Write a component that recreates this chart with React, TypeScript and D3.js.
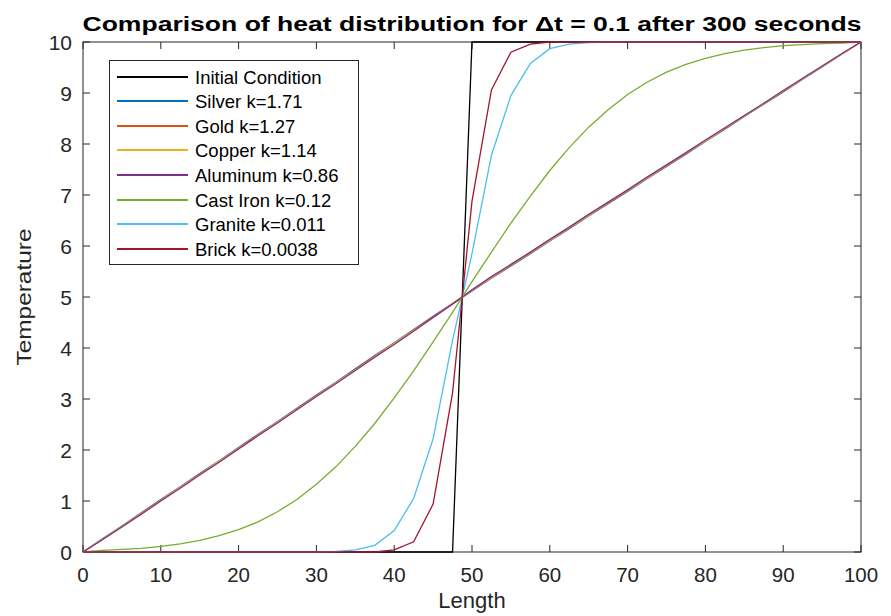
import React from "react";
import * as d3 from "d3";

// sample positions along the rod (every 2.5 units)
const xs = [
  0, 2.5, 5, 7.5, 10, 12.5, 15, 17.5, 20, 22.5, 25, 27.5, 30, 32.5, 35, 37.5, 40, 42.5, 45, 47.5,
  50, 52.5, 55, 57.5, 60, 62.5, 65, 67.5, 70, 72.5, 75, 77.5, 80, 82.5, 85, 87.5, 90, 92.5, 95, 97.5, 100,
];

const initialCond = [
  0, 0, 0, 0, 0, 0, 0, 0, 0, 0, 0, 0, 0, 0, 0, 0, 0, 0, 0, 0,
  10, 10, 10, 10, 10, 10, 10, 10, 10, 10, 10, 10, 10, 10, 10, 10, 10, 10, 10, 10, 10,
];
const silver = [
  0, 0.26, 0.51, 0.77, 1.03, 1.28, 1.54, 1.79, 2.05, 2.31, 2.56, 2.82, 3.08, 3.33, 3.59, 3.85, 4.1, 4.36, 4.62, 4.87,
  5.12, 5.37, 5.61, 5.85, 6.1, 6.34, 6.59, 6.83, 7.07, 7.32, 7.56, 7.8, 8.05, 8.29, 8.54, 8.78, 9.02, 9.27, 9.51, 9.76, 10,
];
const gold = [
  0, 0.25, 0.5, 0.76, 1.02, 1.27, 1.53, 1.78, 2.04, 2.3, 2.55, 2.81, 3.07, 3.32, 3.58, 3.84, 4.09, 4.35, 4.61, 4.87,
  5.13, 5.38, 5.62, 5.86, 6.11, 6.35, 6.6, 6.84, 7.08, 7.33, 7.57, 7.81, 8.06, 8.3, 8.55, 8.79, 9.03, 9.28, 9.52, 9.76, 10,
];
const copper = [
  0, 0.25, 0.5, 0.75, 1.01, 1.27, 1.52, 1.78, 2.03, 2.29, 2.55, 2.8, 3.06, 3.32, 3.57, 3.83, 4.09, 4.34, 4.6, 4.87,
  5.13, 5.38, 5.63, 5.87, 6.11, 6.36, 6.6, 6.85, 7.09, 7.33, 7.58, 7.82, 8.06, 8.31, 8.55, 8.79, 9.04, 9.28, 9.52, 9.76, 10,
];
const aluminum = [
  0, 0.24, 0.49, 0.74, 1.0, 1.25, 1.51, 1.76, 2.02, 2.28, 2.53, 2.79, 3.05, 3.3, 3.56, 3.82, 4.07, 4.33, 4.6, 4.86,
  5.14, 5.4, 5.64, 5.88, 6.13, 6.37, 6.62, 6.86, 7.1, 7.35, 7.59, 7.83, 8.08, 8.32, 8.56, 8.8, 9.05, 9.29, 9.53, 9.77, 10,
];
const castIron = [
  0, 0.03, 0.05, 0.07, 0.11, 0.16, 0.23, 0.32, 0.44, 0.59, 0.79, 1.03, 1.33, 1.67, 2.07, 2.52, 3.02, 3.55, 4.12, 4.7,
  5.3, 5.88, 6.45, 6.98, 7.48, 7.93, 8.33, 8.67, 8.97, 9.21, 9.41, 9.56, 9.68, 9.77, 9.84, 9.89, 9.93, 9.95, 9.97, 9.98, 10,
];
const granite = [
  0, 0, 0, 0, 0, 0, 0, 0, 0, 0, 0, 0, 0, 0.01, 0.04, 0.13, 0.42, 1.05, 2.22, 4.15,
  5.85, 7.78, 8.95, 9.58, 9.87, 9.96, 9.99, 10, 10, 10, 10, 10, 10, 10, 10, 10, 10, 10, 10, 10, 10,
];
const brick = [
  0, 0, 0, 0, 0, 0, 0, 0, 0, 0, 0, 0, 0, 0, 0, 0, 0.04, 0.2, 0.94, 3.12,
  6.88, 9.06, 9.8, 9.96, 10, 10, 10, 10, 10, 10, 10, 10, 10, 10, 10, 10, 10, 10, 10, 10, 10,
];

const seriesNames = [
  "Initial Condition",
  "Silver k=1.71",
  "Gold k=1.27",
  "Copper k=1.14",
  "Aluminum k=0.86",
  "Cast Iron k=0.12",
  "Granite k=0.011",
  "Brick k=0.0038",
];
const seriesValues = [initialCond, silver, gold, copper, aluminum, castIron, granite, brick];
const seriesColors = ["#000000", "#0072BD", "#D95319", "#EDB120", "#7E2F8E", "#77AC30", "#4DBEEE", "#A2142F"];

const xTicks = [0, 10, 20, 30, 40, 50, 60, 70, 80, 90, 100];
const yTicks = [0, 1, 2, 3, 4, 5, 6, 7, 8, 9, 10];

const W = 891;
const H = 616;
const margin = { top: 42, right: 30, bottom: 64, left: 83 };
const font = "'Liberation Sans', Arial, Helvetica, sans-serif";
const axisColor = "#262626";

export default function App() {
  const x = d3.scaleLinear().domain([0, 100]).range([margin.left, W - margin.right]);
  const y = d3.scaleLinear().domain([0, 10]).range([H - margin.bottom, margin.top]);

  const line = d3
    .line<number>()
    .x((_, i) => x(xs[i]))
    .y((d) => y(d));

  const tickLen = 7;
  const [x0, x1] = x.range();
  const [y0, y1] = y.range();

  // legend placement
  const lg = { left: 109.5, top: 60.5, width: 249, height: 204, row: 24.6 };

  return (
    <svg width={W} height={H} style={{ position: "absolute", left: 0, top: 0, background: "#fff" }}>
      <rect x={0} y={0} width={W} height={H} fill="#fff" />

      {/* title */}
      <text
        x={(x0 + x1) / 2}
        y={31}
        textAnchor="middle"
        fontFamily={font}
        fontWeight="bold"
        fontSize={20}
        fill="#000"
        textLength={779}
        lengthAdjust="spacingAndGlyphs"
      >
        Comparison of heat distribution for Δt = 0.1 after 300 seconds
      </text>

      {/* axes box */}
      <rect x={x0} y={y1} width={x1 - x0} height={y0 - y1} fill="none" stroke={axisColor} strokeWidth={1} />

      {/* ticks */}
      {xTicks.map((t) => (
        <g key={"xt" + t}>
          <line x1={x(t)} x2={x(t)} y1={y0} y2={y0 - tickLen} stroke={axisColor} />
          <line x1={x(t)} x2={x(t)} y1={y1} y2={y1 + tickLen} stroke={axisColor} />
          <text x={x(t)} y={y0 + 30} textAnchor="middle" fontFamily={font} fontSize={20.5} fill={axisColor}>
            {t}
          </text>
        </g>
      ))}
      {yTicks.map((t) => (
        <g key={"yt" + t}>
          <line x1={x0} x2={x0 + tickLen} y1={y(t)} y2={y(t)} stroke={axisColor} />
          <line x1={x1} x2={x1 - tickLen} y1={y(t)} y2={y(t)} stroke={axisColor} />
          <text x={72} y={y(t) + 7.5} textAnchor="end" fontFamily={font} fontSize={21} fill={axisColor}>
            {t}
          </text>
        </g>
      ))}

      {/* axis labels */}
      <text x={(x0 + x1) / 2} y={608} textAnchor="middle" fontFamily={font} fontSize={22} fill={axisColor}>
        Length
      </text>
      <text
        transform={`translate(31, ${(y0 + y1) / 2}) rotate(-90)`}
        textAnchor="middle"
        fontFamily={font}
        fontSize={21}
        fill={axisColor}
        textLength={137}
        lengthAdjust="spacingAndGlyphs"
      >
        Temperature
      </text>

      {/* data lines */}
      {seriesValues.map((vals, i) => (
        <path key={seriesNames[i]} d={line(vals) ?? ""} fill="none" stroke={seriesColors[i]} strokeWidth={1.3} />
      ))}

      {/* legend */}
      <rect x={lg.left} y={lg.top} width={lg.width} height={lg.height} fill="#fff" stroke={axisColor} strokeWidth={1} />
      {seriesNames.map((name, i) => {
        const cy = Math.round(lg.top + 16 + i * lg.row);
        return (
          <g key={"lg" + name}>
            <rect x={117} y={cy - 1} width={71} height={2} fill={seriesColors[i]} shapeRendering="crispEdges" />
            <text x={195} y={cy + 6.5} fontFamily={font} fontSize={18.5} fill="#000">
              {name}
            </text>
          </g>
        );
      })}
    </svg>
  );
}
